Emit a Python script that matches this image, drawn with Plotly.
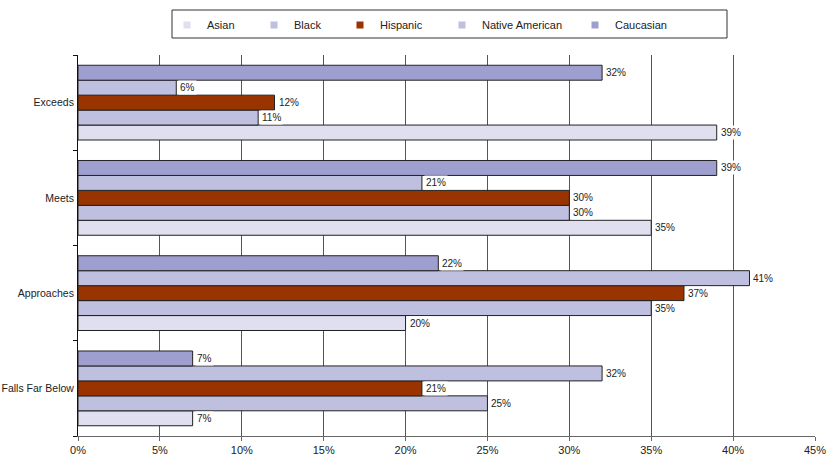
import plotly.graph_objects as go

categories = ["Falls Far Below", "Approaches", "Meets", "Exceeds"]
series_names = ["Asian", "Native American", "Hispanic", "Black", "Caucasian"]
asian = [7, 20, 35, 39]
native_american = [25, 35, 30, 11]
hispanic = [21, 37, 30, 12]
black = [32, 41, 21, 6]
caucasian = [7, 22, 39, 32]
x_ticks = [0, 5, 10, 15, 20, 25, 30, 35, 40, 45]
x_tick_labels = [f"{t}%" for t in x_ticks]

values = [asian, native_american, hispanic, black, caucasian]
colors = {"Asian": "#dfdff0", "Native American": "#bfbfdf", "Hispanic": "#993300",
          "Black": "#bfbfdf", "Caucasian": "#9f9fcf"}
legend_order = ["Asian", "Black", "Hispanic", "Native American", "Caucasian"]
legend_text_x = [207, 294, 380, 482, 615]

W, H = 828, 457
ML, MR, MT, MB = 78, 13, 55, 21
plot_w = W - ML - MR
plot_h = H - MT - MB
bargap = 0.215

FONT = "Liberation Sans, Arial, sans-serif"
fig = go.Figure()
for name, vals in zip(series_names, values):
    fig.add_trace(go.Bar(
        name=name, y=categories, x=vals, orientation="h",
        marker=dict(color=colors[name], line=dict(color="#222222", width=1)),
        showlegend=False, hoverinfo="x+name",
    ))

# label annotations (white background over gridlines)
cat_px = plot_h / len(categories)
bar_px = cat_px * (1 - bargap) / len(series_names)
annotations = []
for i, (name, vals) in enumerate(zip(series_names, values)):
    shift = (i - (len(series_names) - 1) / 2) * bar_px
    for c, v in zip(categories, vals):
        annotations.append(dict(
            x=v, y=c, xref="x", yref="y", text=f"{v}%", showarrow=False,
            xanchor="left", yanchor="middle", xshift=2, yshift=shift,
            bgcolor="white", borderpad=1,
            font=dict(family=FONT, size=10, color="#222222"),
        ))

# legend entries
legend_layout = {}
for k, (name, tx) in enumerate(zip(legend_order, legend_text_x)):
    lname = "legend" if k == 0 else f"legend{k+1}"
    fig.add_trace(go.Scatter(
        x=[None], y=[None], mode="markers", name=name,
        marker=dict(symbol="square", size=7, color=colors[name]),
        legend=lname, showlegend=True,
    ))
    legend_layout[lname] = dict(
        x=(tx - 40 - ML) / plot_w, xanchor="left",
        y=(H - MB - 25) / plot_h, yanchor="middle",
        orientation="h", bgcolor="rgba(0,0,0,0)", borderwidth=0,
        font=dict(family=FONT, size=11, color="#222222"),
        itemwidth=30, tracegroupgap=0,
    )

fig.update_layout(
    width=W, height=H,
    margin=dict(l=ML, r=MR, t=MT, b=MB, autoexpand=False),
    barmode="group", bargap=bargap, bargroupgap=0,
    plot_bgcolor="white", paper_bgcolor="white",
    font=dict(family=FONT, size=11, color="#222222"),
    annotations=annotations,
    shapes=[dict(type="rect", xref="paper", yref="paper",
                 x0=(172 - ML) / plot_w, x1=(727 - ML) / plot_w,
                 y0=(H - MB - 38) / plot_h, y1=(H - MB - 10) / plot_h,
                 line=dict(color="#333333", width=1), fillcolor="rgba(0,0,0,0)")],
    xaxis=dict(range=[0, 45], tickvals=x_ticks, ticktext=x_tick_labels,
               showgrid=True, gridcolor="#555555", gridwidth=1,
               showline=True, linecolor="#666666", linewidth=1,
               ticks="outside", ticklen=4, tickcolor="#666666",
               ticklabelstandoff=0,
               zeroline=False, fixedrange=True, automargin=False,
               tickfont=dict(family=FONT, size=11, color="#222222")),
    yaxis=dict(categoryorder="array", categoryarray=categories,
               showline=True, linecolor="#111111", linewidth=1,
               ticks="outside", ticklen=4, tickson="boundaries", tickcolor="#111111",
               ticklabelstandoff=1,
               showgrid=False, fixedrange=True, automargin=False,
               tickfont=dict(family=FONT, size=10.5, color="#222222")),
    **legend_layout,
)

fig.write_html("out.html", config={"displayModeBar": False},
               post_script="document.body.style.margin='0';document.body.style.overflow='hidden';")
